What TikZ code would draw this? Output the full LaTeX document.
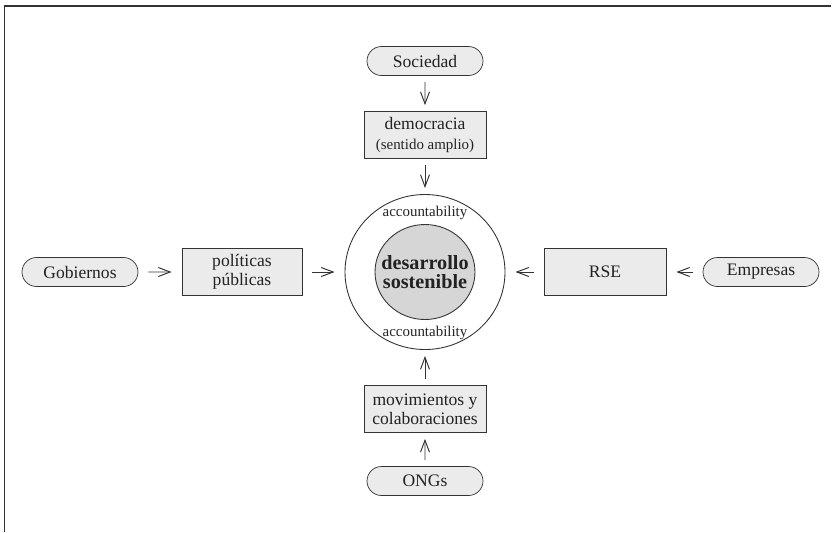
\documentclass[tikz,border=0pt]{standalone}
\usepackage{fontspec}
\setmainfont{Liberation Serif}
\usetikzlibrary{arrows.meta}
\usetikzlibrary{positioning, shapes.geometric, shapes.misc}
\definecolor{boxgray}{HTML}{EBEBEB}
\definecolor{coregray}{HTML}{D6D6D6}
\definecolor{linegray}{HTML}{333333}
\definecolor{textgray}{HTML}{222222}
\tikzset{
actor/.style = { rounded rectangle, draw = linegray, fill = boxgray, text = textgray, minimum width = 23.2mm, minimum height = 5.8mm, inner sep = 0pt, font = \fontsize{10}{12}\selectfont },
channel/.style = { rectangle, draw = linegray, fill = boxgray, text = textgray, minimum width = 24.4mm, minimum height = 9.4mm, inner sep = 0pt, align = center, font = \fontsize{10}{11}\selectfont },
small/.style = { text = textgray, inner sep = 0pt, font = \fontsize{8.5}{10}\selectfont },
vflow/.style = { -{Straight Barb[length=2.4mm, width=1.8mm]}, draw = linegray, line width = 0.55pt, shorten <= 1.2mm, shorten >= 1.2mm },
hflow/.style = { vflow, shorten <= 2mm, shorten >= 2mm },
}
\begin{document}
\begin{tikzpicture}
    \useasboundingbox (-8.5, -5.2) rectangle (8.14, 5.44);
    \draw[linegray, line width = 0.9pt] (-8.41, -5.2) -- (-8.41, 5.32) -- (8.12, 5.32);
    % centre
    \node[ellipse, draw = linegray, line width = 0.5pt, minimum width = 32mm, minimum height = 31mm] (ring) at (0, 0) {};
    \node[ellipse, draw = linegray, fill = coregray, line width = 0.5pt, minimum width = 20mm, minimum height = 19mm] (core) at (0, 0) {};
    \node[align = center, inner sep = 0pt, text = textgray, font = \fontsize{11.5}{11}\selectfont\bfseries] (core text) at (core.center) {desarrollo\\sostenible};
    \node[small] (acc top) at (0, 1.19) {accountability};
    \node[small] (acc bottom) at (0, -1.21) {accountability};
    % top
    \node[actor] (sociedad) at (0, 4.22) {Sociedad};
    \node[channel] (democracia) at (0, 2.74) {democracia\\{\fontsize{8.5}{10}\selectfont (sentido amplio)}};
    % left
    \node[actor] (gobiernos) at (-6.9, 0) {Gobiernos};
    \node[channel, minimum width = 24mm] (politicas) at (-3.66, 0) {políticas\\públicas};
    % right
    \node[channel] (rse) at (3.6, 0) {RSE};
    \node[actor] (empresas) at (6.72, 0) {Empresas};
    % bottom
    \node[channel] (movimientos) at (0, -2.74) {movimientos y\\colaboraciones};
    \node[actor] (ongs) at (0, -4.18) {ONGs};
    % flows
    \draw[vflow] (sociedad) -- (democracia);
    \draw[vflow] (democracia) -- (ring);
    \draw[vflow] (ongs) -- (movimientos);
    \draw[vflow] (movimientos) -- (ring);
    \draw[hflow] (gobiernos) -- (politicas);
    \draw[hflow] (politicas) -- (ring);
    \draw[hflow] (empresas) -- (rse);
    \draw[hflow] (rse) -- (ring);
\end{tikzpicture}
\end{document}
